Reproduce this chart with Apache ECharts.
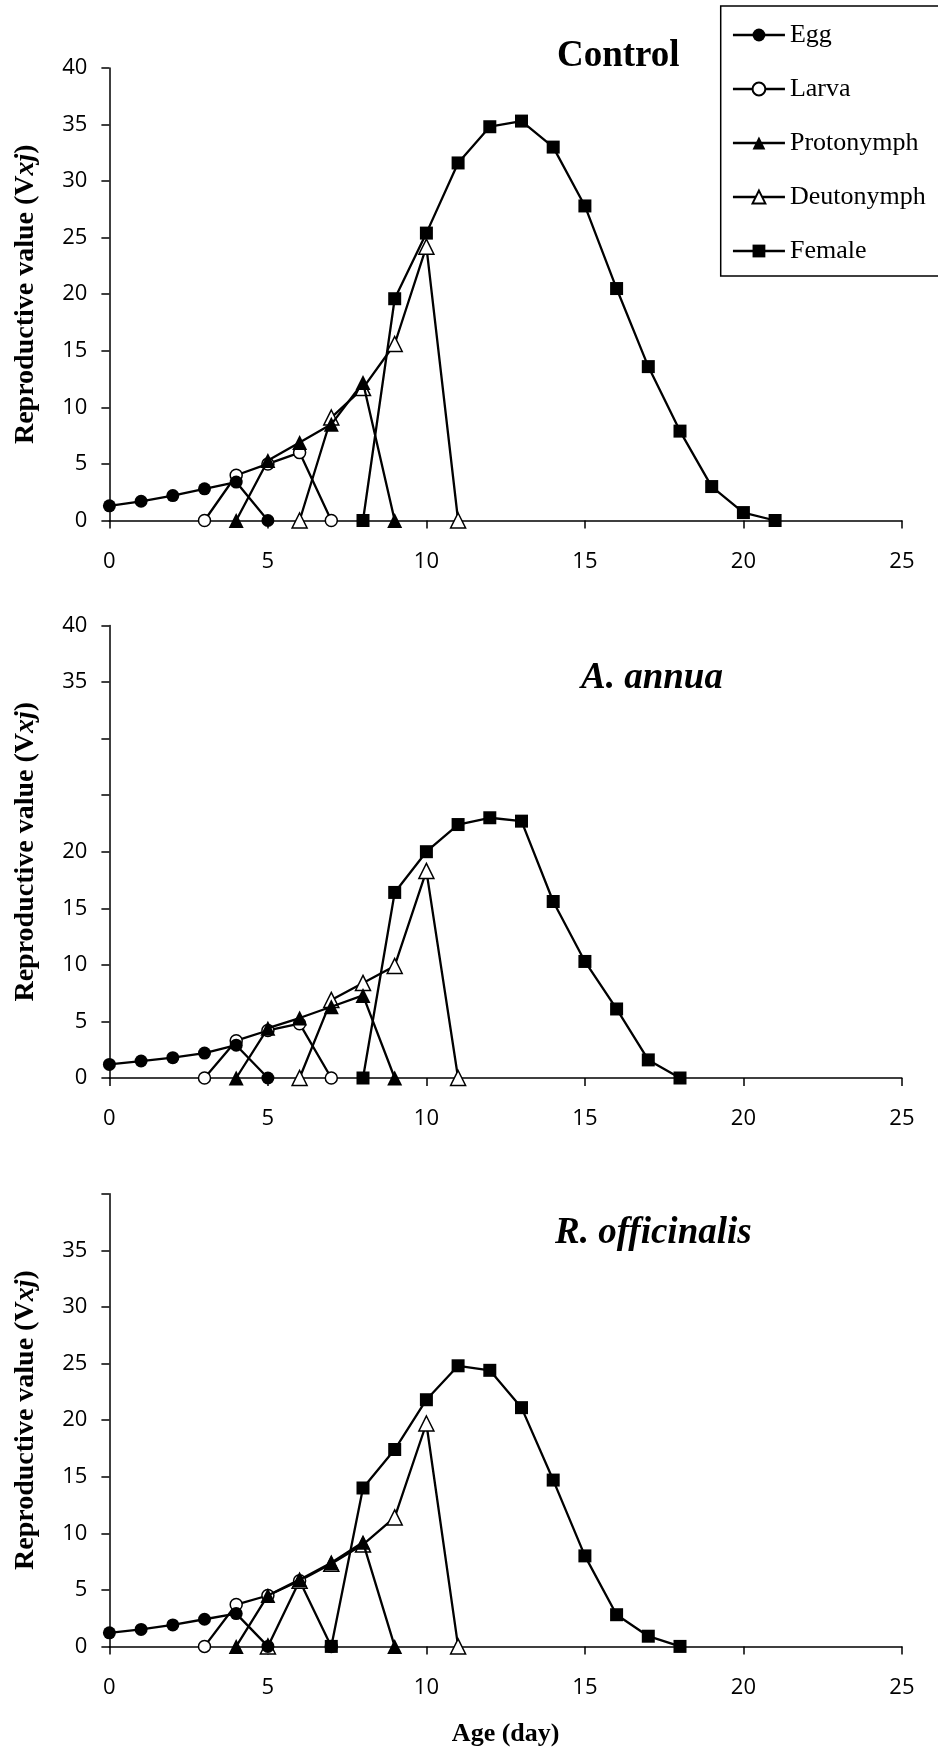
<!DOCTYPE html>
<html>
<head>
<meta charset="utf-8">
<title>Reproductive value</title>
<script src="https://cdn.jsdelivr.net/npm/echarts@6/dist/echarts.min.js"></script>
<style>
html,body{margin:0;padding:0;background:#fff;}
#main{width:938px;height:1758px;}
</style>
</head>
<body>
<div id="main"></div>
<script>
// stage names (legend order)
var stages = ['Egg', 'Larva', 'Protonymph', 'Deutonymph', 'Female'];
var panelTitles = ['Control', 'A. annua', 'R. officinalis'];
var xTicks = [0, 5, 10, 15, 20, 25];
var yTicks = [0, 5, 10, 15, 20, 25, 30, 35, 40];

// first age (day) of each stage curve, per panel
var ctrlStart = [0, 3, 4, 6, 8];
var annuaStart = [0, 3, 4, 6, 8];
var rosStart = [0, 3, 4, 5, 7];

// Control
var ctrlEgg = [1.3, 1.7, 2.2, 2.8, 3.4, 0];
var ctrlLarva = [0, 4.0, 5.0, 6.0, 0];
var ctrlProto = [0, 5.3, 6.9, 8.5, 12.2, 0];
var ctrlDeuto = [0, 9.1, 11.7, 15.6, 24.2, 0];
var ctrlFemale = [0, 19.6, 25.4, 31.6, 34.8, 35.3, 33.0, 27.8, 20.5, 13.6, 7.9, 3.0, 0.7, 0];

// A. annua
var annuaEgg = [1.2, 1.5, 1.8, 2.2, 2.9, 0];
var annuaLarva = [0, 3.3, 4.2, 4.8, 0];
var annuaProto = [0, 4.4, 5.3, 6.3, 7.3, 0];
var annuaDeuto = [0, 6.9, 8.4, 9.9, 18.3, 0];
var annuaFemale = [0, 16.4, 20.0, 22.4, 23.0, 22.7, 15.6, 10.3, 6.1, 1.6, 0];

// R. officinalis
var rosEgg = [1.2, 1.5, 1.9, 2.4, 2.9, 0];
var rosLarva = [0, 3.7, 4.5, 5.8, 0];
var rosProto = [0, 4.5, 5.9, 7.4, 9.2, 0];
var rosDeuto = [0, 5.8, 7.3, 9.0, 11.4, 19.7, 0];
var rosFemale = [0, 14.0, 17.4, 21.8, 24.8, 24.4, 21.1, 14.7, 8.0, 2.8, 0.9, 0];

// y labels hidden in a panel
var hiddenY = [[], [25, 30], [40]];

var serif = 'Liberation Serif';
var tickFont = 'Open Sans';

// marker look of each stage
var marks = {
	'Egg': {symbol: 'circle', size: 13, fill: '#000'},
	'Larva': {symbol: 'circle', size: 12, fill: '#fff'},
	'Protonymph': {symbol: 'triangle', size: 15, fill: '#000'},
	'Deutonymph': {symbol: 'triangle', size: 15, fill: '#fff'},
	'Female': {symbol: 'rect', size: 13, fill: '#000'}
};

//把起始日龄和数值组合成点
function toPairs(start, vals){
	var out = [];
	for(var i=0;i<vals.length;i++){
		out.push([start + i, vals[i]]);
	}
	return out;
}

var panels = [
	{start: ctrlStart, lists: [ctrlEgg, ctrlLarva, ctrlProto, ctrlDeuto, ctrlFemale]},
	{start: annuaStart, lists: [annuaEgg, annuaLarva, annuaProto, annuaDeuto, annuaFemale]},
	{start: rosStart, lists: [rosEgg, rosLarva, rosProto, rosDeuto, rosFemale]}
];

var gridTops = [67.9, 625.4, 1193.8];
var gridH = 452.6;

var grids = [], xAxes = [], yAxes = [], series = [], titles = [];
var titlePos = [
	{left: 557, top: 38, italic: false},
	{left: 581, top: 660, italic: true},
	{left: 555, top: 1215, italic: true}
];

for(var p=0;p<3;p++){
	grids.push({left: 109.4, top: gridTops[p], width: 792.5, height: gridH});
	xAxes.push({
		type: 'value', gridIndex: p, min: 0, max: 25, interval: 5,
		splitLine: {show: false},
		axisLine: {onZero: false, lineStyle: {color: '#000', width: 1.5}},
		axisTick: {length: 8, lineStyle: {color: '#000', width: 1.5}},
		axisLabel: {margin: 30, color: '#000', fontFamily: tickFont, fontSize: 22},
		name: p == 2 ? 'Age (day)' : '',
		nameLocation: 'middle', nameGap: 75,
		nameTextStyle: {fontFamily: serif, fontWeight: 'bold', fontSize: 26, color: '#000'}
	});
	(function(hide){
		yAxes.push({
			type: 'value', gridIndex: p, min: 0, max: 40, interval: 5,
			splitLine: {show: false},
			axisLine: {show: true, lineStyle: {color: '#000', width: 1.5}},
			axisTick: {show: true, length: 8, lineStyle: {color: '#000', width: 1.5}},
			axisLabel: {
				margin: 22, color: '#000', fontFamily: tickFont, fontSize: 22,
				formatter: function(v){ return hide.indexOf(v) >= 0 ? '' : String(v); }
			},
			name: '{b|Reproductive value (V}{i|xj}{b|)}',
			nameLocation: 'middle', nameGap: 70,
			nameTextStyle: {
				fontFamily: serif, fontWeight: 'bold', fontSize: 28, color: '#000',
				rich: {
					b: {fontFamily: serif, fontWeight: 'bold', fontSize: 28, color: '#000'},
					i: {fontFamily: serif, fontWeight: 'bold', fontStyle: 'italic', fontSize: 28, color: '#000'}
				}
			}
		});
	})(hiddenY[p]);
	titles.push({
		text: panelTitles[p], left: titlePos[p].left, top: titlePos[p].top, padding: 0,
		textStyle: {
			fontFamily: serif, fontWeight: 'bold', fontSize: 37, color: '#000',
			fontStyle: titlePos[p].italic ? 'italic' : 'normal'
		}
	});
	for(var s=0;s<stages.length;s++){
		var m = marks[stages[s]];
		series.push({
			name: stages[s], type: 'line', xAxisIndex: p, yAxisIndex: p,
			data: toPairs(panels[p].start[s], panels[p].lists[s]),
			symbol: m.symbol, symbolSize: m.size, showSymbol: true,
			z: (m.fill == '#000') ? 3 : 2,
			lineStyle: {color: '#000', width: 2.3},
			itemStyle: {color: m.fill, borderColor: '#000', borderWidth: m.fill == '#fff' ? 1.5 : 0},
			emphasis: {disabled: true}
		});
	}
}

var myChart = echarts.init(document.getElementById('main'), null, {renderer: 'canvas'});
var option = {
	backgroundColor: '#fff',
	animation: false,
	title: titles,
	legend: {
		data: stages, orient: 'vertical', left: 720.7, top: 6,
		itemWidth: 52, itemHeight: 16, itemGap: 24,
		padding: [14, 40, 10, 11],
		borderColor: '#000', borderWidth: 1.5,
		selectedMode: false,
		lineStyle: {width: 2.5, color: '#000'},
		textStyle: {fontFamily: serif, fontSize: 26, color: '#000', lineHeight: 30}
	},
	grid: grids,
	xAxis: xAxes,
	yAxis: yAxes,
	series: series
};
myChart.setOption(option);
</script>
</body>
</html>
